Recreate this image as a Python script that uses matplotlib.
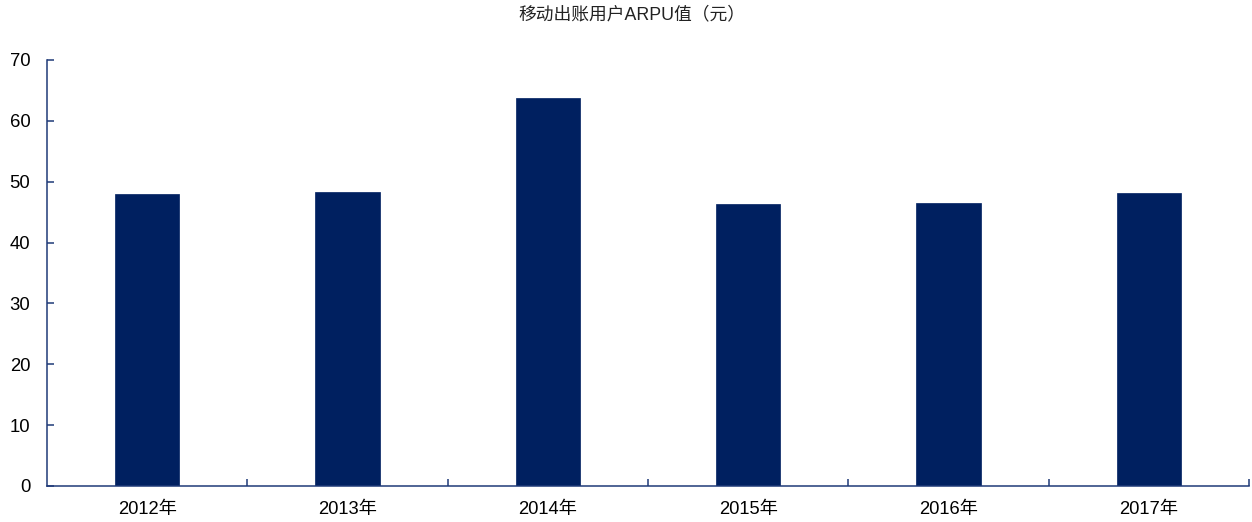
import matplotlib
matplotlib.use("Agg")
import matplotlib.pyplot as plt
import numpy as np

categories = ["2012年", "2013年", "2014年", "2015年", "2016年", "2017年"]
arpu = [48.0, 48.3, 63.7, 46.3, 46.5, 48.1]
yticks = [0, 10, 20, 30, 40, 50, 60, 70]

fam = ['Liberation Sans', 'Noto Sans CJK SC', 'DejaVu Sans']
plt.rcParams['font.family'] = fam

fig = plt.figure(figsize=(12.52, 5.22), dpi=100)
ax = fig.add_axes([47/1252, 36/522, (1249-47)/1252, (486-60)/522])

x = np.arange(len(categories))
ax.bar(x, arpu, width=0.32, color='#002060', edgecolor='#002060', linewidth=0.5)

ax.set_xlim(-0.5, len(categories) - 0.5)
ax.set_ylim(0, 70)
ax.set_yticks(yticks)
ax.set_xticks(x)
ax.set_xticklabels(categories)
ax.set_xticks(np.arange(len(categories)) + 0.5, minor=True)

spc = '#1F3A78'
for s in ['top', 'right']:
    ax.spines[s].set_visible(False)
for s in ['left', 'bottom']:
    ax.spines[s].set_color(spc)
    ax.spines[s].set_linewidth(1.1)

ax.tick_params(axis='y', direction='in', length=5, width=1.1, color=spc,
               labelsize=13.3, pad=12, labelcolor='#000000')
ax.tick_params(axis='x', which='major', length=0, labelsize=13.2, pad=11)
ax.tick_params(axis='x', which='minor', direction='in', length=5, width=1.1, color=spc)

fig.text(632/1252, 1 - 15/522, "移动出账用户ARPU值（元）", ha='center', va='center',
         fontsize=12.8, family=fam, color='#222222')

fig.savefig("out.png", dpi=100)
